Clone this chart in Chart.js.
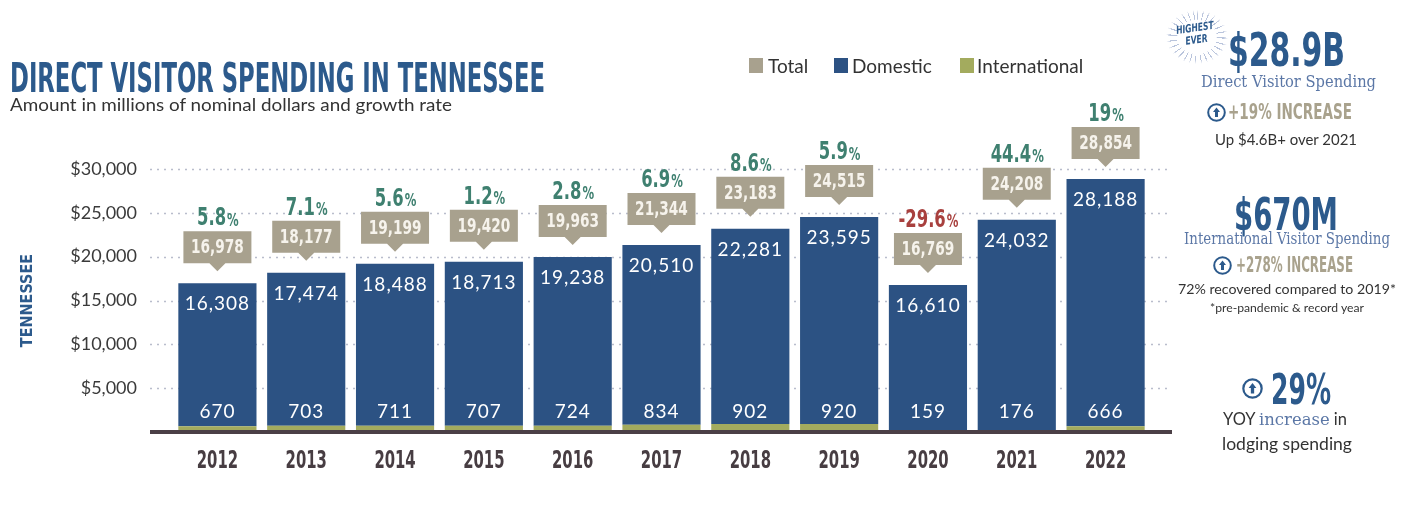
<!DOCTYPE html>
<html lang="en">
<head>
  <meta charset="UTF-8">
  <title>Direct Visitor Spending in Tennessee</title>
  <style>
    body {
      margin: 0;
      background: #ffffff;
      font-family: Lato, "Noto Sans", sans-serif;
    }

    #wrap {
      position: relative;
      width: 1406px;
      height: 505px;
      overflow: hidden;
    }

    #chart {
      position: absolute;
      left: 0;
      top: 0;
    }

    .t {
      position: absolute;
      white-space: nowrap;
      line-height: 1;
    }

    .cond {
      font-family: "Liberation Sans Narrow", "DejaVu Sans Condensed", sans-serif;
      font-weight: bold;
    }

    .serif {
      font-family: "DejaVu Serif", serif;
      color: #5b77a6;
    }

    .legend-box {
      position: absolute;
      width: 14px;
      height: 15px;
    }

    .icon {
      position: absolute;
    }

    .burst {
      position: absolute;
      left: 1166px;
      top: 10px;
      width: 62px;
      height: 54px;
      background: repeating-conic-gradient(#b9c4dc 0deg 2.5deg, transparent 2.5deg 13deg);
      -webkit-mask: radial-gradient(closest-side, transparent 62%, #000 66%, #000 85%, transparent 100%);
      mask: radial-gradient(closest-side, transparent 62%, #000 66%, #000 85%, transparent 100%);
    }
  </style>
</head>
<body>
<div id="wrap">
  <canvas id="chart" width="1406" height="505"></canvas>

  <!-- title block -->
  <div class="t cond fit" data-w="535" style="left:10px; top:58px; font-size:40px; color:#2c5a8c;">DIRECT VISITOR SPENDING IN TENNESSEE</div>
  <div class="t fit" data-w="442" style="left:10px; top:95px; font-size:18px; color:#333;">Amount in millions of nominal dollars and growth rate</div>

  <!-- legend -->
  <div class="legend-box" style="left:749px; top:58px; background:#a8a18e;"></div>
  <div class="t" style="left:768px; top:56px; font-size:19px; color:#333;">Total</div>
  <div class="legend-box" style="left:834px; top:58px; background:#2c5283;"></div>
  <div class="t" style="left:852px; top:56px; font-size:19px; color:#333;">Domestic</div>
  <div class="legend-box" style="left:960px; top:58px; background:#a3ab5e;"></div>
  <div class="t" style="left:977px; top:56px; font-size:19px; color:#333;">International</div>

  <!-- side panel -->
  <div class="burst"></div>
  <div class="t cond fit" data-w="40" style="left:1177px; top:25px; font-size:11px; color:#2c5a8c; font-style:italic; text-align:center; transform:rotate(-8deg); line-height:1.05;">HIGHEST<br>EVER</div>
  <div class="t cond fit" data-w="117" style="left:1228px; top:27px; font-size:46px; color:#2c5a8c;">$28.9B</div>
  <div class="t serif fit" data-w="175" style="left:1201px; top:74px; font-size:16px;">Direct Visitor Spending</div>
  <svg class="icon" style="left:1207px; top:103px;" width="19" height="19" viewBox="0 0 19 19">
    <circle cx="9.5" cy="9.5" r="8.3" fill="none" stroke="#2c5a8c" stroke-width="2"/>
    <path d="M9.5 4.5 L13 9 L11 9 L11 14 L8 14 L8 9 L6 9 Z" fill="#2c5a8c"/>
  </svg>
  <div class="t cond fit" data-w="124" style="left:1228px; top:102px; font-size:21px; color:#a9a28d;">+19% INCREASE</div>
  <div class="t fit" data-w="142" style="left:1215px; top:132px; font-size:15px; color:#333;">Up $4.6B+ over 2021</div>

  <div class="t cond fit" data-w="104" style="left:1234px; top:193px; font-size:44px; color:#2c5a8c;">$670M</div>
  <div class="t serif fit" data-w="206" style="left:1184px; top:231px; font-size:16px;">International Visitor Spending</div>
  <svg class="icon" style="left:1213px; top:256px;" width="19" height="19" viewBox="0 0 19 19">
    <circle cx="9.5" cy="9.5" r="8.3" fill="none" stroke="#2c5a8c" stroke-width="2"/>
    <path d="M9.5 4.5 L13 9 L11 9 L11 14 L8 14 L8 9 L6 9 Z" fill="#2c5a8c"/>
  </svg>
  <div class="t cond fit" data-w="117" style="left:1236px; top:255px; font-size:21px; color:#a9a28d;">+278% INCREASE</div>
  <div class="t fit" data-w="218" style="left:1178px; top:282px; font-size:14px; color:#333;">72% recovered compared to 2019*</div>
  <div class="t fit" data-w="154" style="left:1210px; top:302px; font-size:12px; color:#333;">*pre-pandemic &amp; record year</div>

  <svg class="icon" style="left:1242px; top:378px;" width="21" height="21" viewBox="0 0 19 19">
    <circle cx="9.5" cy="9.5" r="8.3" fill="none" stroke="#2c5a8c" stroke-width="2"/>
    <path d="M9.5 4.5 L13 9 L11 9 L11 14 L8 14 L8 9 L6 9 Z" fill="#2c5a8c"/>
  </svg>
  <div class="t cond fit" data-w="60" style="left:1271px; top:369px; font-size:42px; color:#2c5a8c;">29%</div>
  <div class="t fit" data-w="124" style="left:1223px; top:410px; font-size:17px; color:#333;">YOY <span class="serif">increase</span> in</div>
  <div class="t fit" data-w="130" style="left:1222px; top:435px; font-size:17px; color:#333;">lodging spending</div>
</div>

<script src="https://cdn.jsdelivr.net/npm/chart.js"></script>
<script>
  const years = ["2012", "2013", "2014", "2015", "2016", "2017", "2018", "2019", "2020", "2021", "2022"];
  const domestic = [16308, 17474, 18488, 18713, 19238, 20510, 22281, 23595, 16610, 24032, 28188];
  const international = [670, 703, 711, 707, 724, 834, 902, 920, 159, 176, 666];
  const totals = [16978, 18177, 19199, 19420, 19963, 21344, 23183, 24515, 16769, 24208, 28854];
  const growth = [5.8, 7.1, 5.6, 1.2, 2.8, 6.9, 8.6, 5.9, -29.6, 44.4, 19];

  const COND = '"Liberation Sans Narrow", "DejaVu Sans Condensed", sans-serif';
  const GEO = 'Lato, "Noto Sans", sans-serif';

  // squeeze html text to the width it takes in the original
  document.querySelectorAll(".fit").forEach(el => {
    const w = el.getBoundingClientRect().width;
    const r = el.style.transform || "";
    el.style.transformOrigin = "left center";
    el.style.transform = r + " scaleX(" + (el.dataset.w / w) + ")";
  });

  function fmt(v) {
    return v.toLocaleString("en-US");
  }

  // text squeezed horizontally (the original uses a very narrow face)
  function narrowText(ctx, text, x, y, sx) {
    ctx.save();
    ctx.translate(x, y);
    ctx.scale(sx, 1);
    ctx.fillText(text, 0, 0);
    ctx.restore();
  }

  const decor = {
    id: "decor",
    beforeDatasetsDraw(chart) {
      const { ctx, chartArea: a, scales: { y } } = chart;
      ctx.save();
      ctx.strokeStyle = "#b9bdcc";
      ctx.lineWidth = 1.6;
      ctx.setLineDash([2, 5]);
      y.ticks.forEach(t => {
        if (t.value === 0) return;
        const py = Math.round(y.getPixelForValue(t.value)) + 0.5;
        ctx.beginPath();
        ctx.moveTo(a.left - 23, py);
        ctx.lineTo(a.right + 22, py);
        ctx.stroke();
      });
      ctx.restore();
    },
    afterDatasetsDraw(chart) {
      const { ctx, chartArea: a, scales: { x, y } } = chart;
      const zero = y.getPixelForValue(0);
      ctx.save();

      // base line
      ctx.fillStyle = "#4b3f46";
      ctx.fillRect(a.left - 23, zero - 2, a.width + 45, 4);

      ctx.textAlign = "center";
      ctx.textBaseline = "middle";

      // year labels under the axis
      ctx.fillStyle = "#473d42";
      ctx.font = "bold 25px " + COND;
      chart.data.labels.forEach((lab, i) => {
        narrowText(ctx, lab, x.getPixelForValue(i), zero + 29, 0.66);
      });

      const bars = chart.getDatasetMeta(1).data;
      bars.forEach((bar, i) => {
        const cx = bar.x;
        const top = bar.y;

        // total callout
        const bBot = top - 20, bTop = bBot - 32;
        ctx.fillStyle = "#a8a18e";
        ctx.beginPath();
        ctx.moveTo(cx - 34, bTop);
        ctx.lineTo(cx + 34, bTop);
        ctx.lineTo(cx + 34, bBot);
        ctx.lineTo(cx + 8, bBot);
        ctx.lineTo(cx, bBot + 8);
        ctx.lineTo(cx - 8, bBot);
        ctx.lineTo(cx - 34, bBot);
        ctx.closePath();
        ctx.fill();
        ctx.fillStyle = "#f6f3ec";
        ctx.font = "bold 19px " + COND;
        narrowText(ctx, fmt(totals[i]), cx, bBot - 15, 0.8);

        // growth rate
        const num = String(growth[i]);
        const sx = 0.76;
        ctx.fillStyle = growth[i] < 0 ? "#a8403e" : "#3f8070";
        ctx.font = "bold 24px " + COND;
        const wNum = ctx.measureText(num).width * sx;
        ctx.font = "bold 17px " + COND;
        const wPct = ctx.measureText("%").width * sx;
        const start = cx - (wNum + wPct) / 2;
        ctx.textAlign = "left";
        ctx.font = "bold 24px " + COND;
        narrowText(ctx, num, start, top - 64, sx);
        ctx.font = "bold 17px " + COND;
        narrowText(ctx, "%", start + wNum + 1, top - 62, sx);
        ctx.textAlign = "center";

        // values inside the bar
        ctx.fillStyle = "#ffffff";
        ctx.font = "19px " + GEO;
        ctx.letterSpacing = "1px";
        ctx.fillText(fmt(domestic[i]), cx, top + 21);
        ctx.fillText(fmt(international[i]), cx, zero - 20);
        ctx.letterSpacing = "0px";
      });
      ctx.restore();
    }
  };

  new Chart(document.getElementById("chart").getContext("2d"), {
    type: "bar",
    data: {
      labels: years,
      datasets: [
        { label: "International", data: international, backgroundColor: "#a3ab5e" },
        { label: "Domestic", data: domestic, backgroundColor: "#2c5283" }
      ]
    },
    options: {
      responsive: false,
      animation: false,
      layout: { padding: { left: 15, right: 256, top: 169, bottom: 0 } },
      datasets: { bar: { categoryPercentage: 1, barPercentage: 0.88 } },
      scales: {
        x: {
          stacked: true,
          grid: { display: false, drawTicks: false },
          border: { display: false },
          ticks: { display: false },
          afterFit(s) { s.height = 73; }
        },
        y: {
          stacked: true,
          min: 0,
          max: 30000,
          grid: { display: false, drawTicks: false },
          border: { display: false },
          ticks: {
            stepSize: 5000,
            padding: 36,
            color: "#3a3a3a",
            font: { family: GEO, size: 18 },
            callback: v => v === 0 ? "" : "$" + fmt(v)
          },
          title: {
            display: true,
            text: "TENNESSEE",
            color: "#2c5a8c",
            font: { family: COND, size: 16, weight: "bold" },
            padding: { top: 3, bottom: 0 }
          },
          afterFit(s) { s.width = 158; }
        }
      },
      plugins: {
        legend: { display: false },
        tooltip: { enabled: false }
      }
    },
    plugins: [decor]
  });
</script>
</body>
</html>
